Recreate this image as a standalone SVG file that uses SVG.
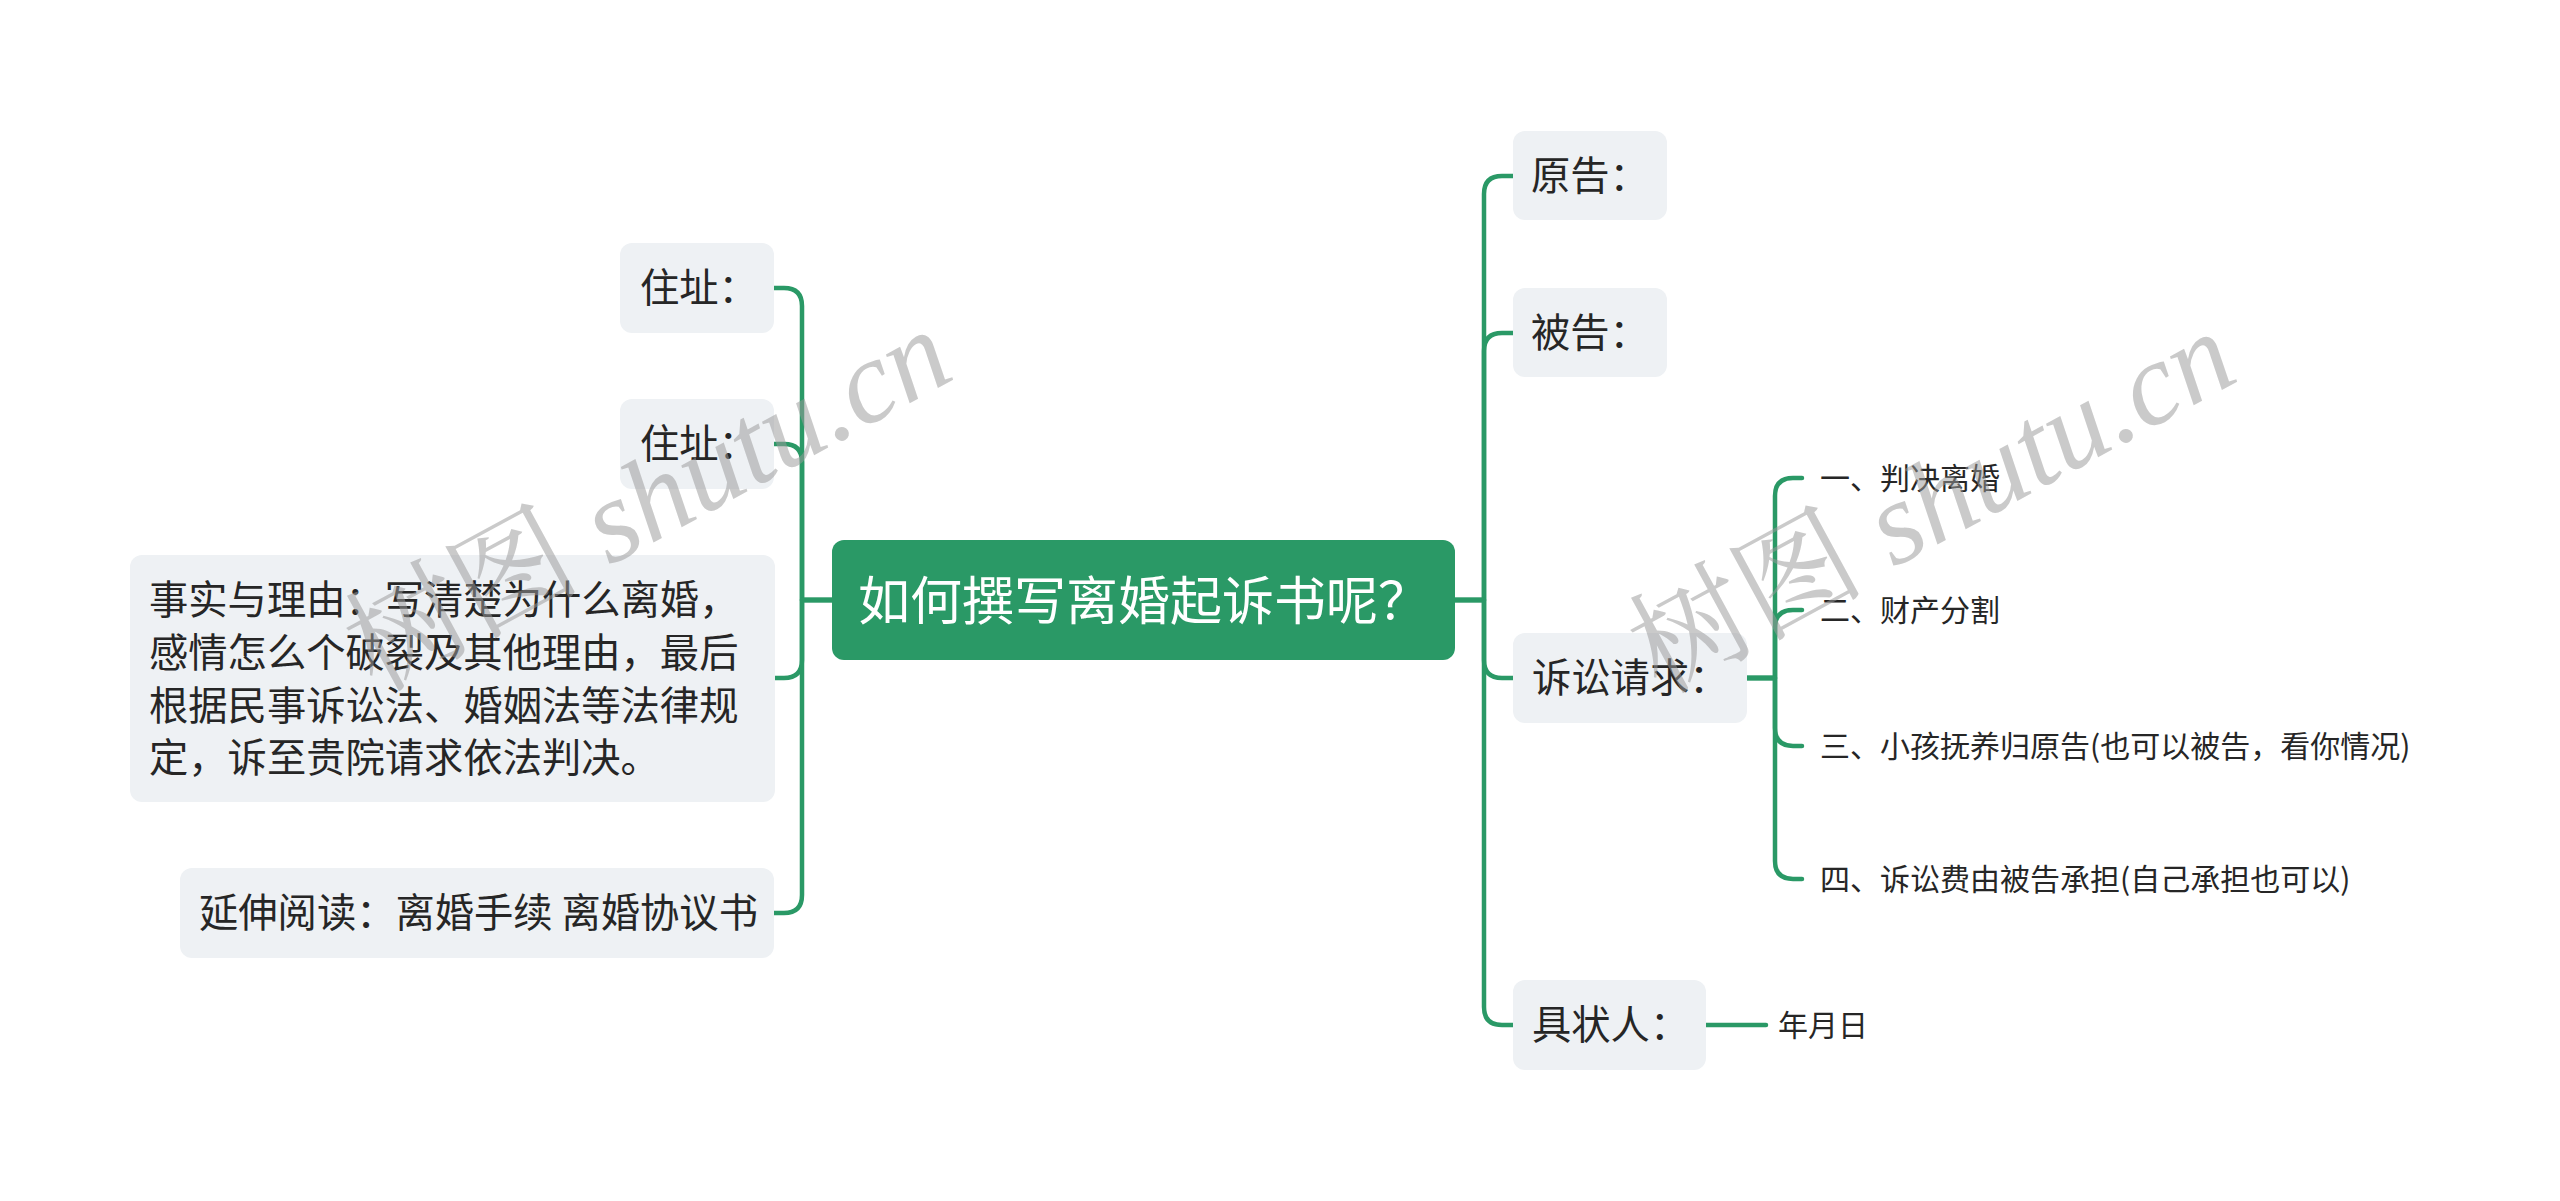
<svg xmlns="http://www.w3.org/2000/svg" width="2560" height="1201" viewBox="0 0 2560 1201">
<style>
.bg{fill:#ffffff}
.node{fill:#eef1f4}
.root{fill:#2a9966}
.t1{font-family:"Noto Sans CJK SC","Noto Sans",sans-serif;font-size:39.3px;fill:#262626}
.t2{font-family:"Noto Sans CJK SC","Noto Sans",sans-serif;font-size:30px;fill:#262626}
.t0{font-family:"Noto Sans CJK SC","Noto Sans",sans-serif;font-size:52px;fill:#ffffff}
.ln{fill:none;stroke:#2a9966;stroke-width:4.5;stroke-linecap:round;stroke-linejoin:round}
.wm{font-family:"Liberation Serif","Noto Serif CJK SC","Noto Sans CJK SC",serif;font-size:118px;fill:#9a9a9a;fill-opacity:0.52}
.wm .it{font-style:italic}
</style>
<rect class="bg" x="0" y="0" width="2560" height="1201"/>
<g id="connectors">
<path class="ln" d="M833 600 H802 V306 Q802 288 784 288 H774"/>
<path class="ln" d="M833 600 H802 V462 Q802 444 784 444 H774"/>
<path class="ln" d="M833 600 H802 V660 Q802 678 784 678 H774"/>
<path class="ln" d="M833 600 H802 V895 Q802 913 784 913 H774"/>
<path class="ln" d="M1455 600 H1484 V194 Q1484 176 1502 176 H1513"/>
<path class="ln" d="M1455 600 H1484 V351 Q1484 333 1502 333 H1513"/>
<path class="ln" d="M1455 600 H1484 V660 Q1484 678 1502 678 H1513"/>
<path class="ln" d="M1455 600 H1484 V1007 Q1484 1025 1502 1025 H1513"/>
<path class="ln" d="M1747 678 H1775 V496 Q1775 478 1793 478 H1802"/>
<path class="ln" d="M1747 678 H1775 V628 Q1775 610 1793 610 H1802"/>
<path class="ln" d="M1747 678 H1775 V728 Q1775 746 1793 746 H1802"/>
<path class="ln" d="M1747 678 H1775 V861 Q1775 879 1793 879 H1802"/>
<path class="ln" d="M1706 1025 H1766"/>
</g>
<g id="root">
<rect class="root" x="832" y="540" width="623" height="120" rx="12"/>
<text class="t0" x="858" y="620">如何撰写离婚起诉书呢？</text>
</g>
<g id="n-zhuzhi1">
<rect class="node" x="620" y="243" width="154" height="90" rx="12"/>
<text class="t1" x="640" y="302">住址：</text>
</g>
<g id="n-zhuzhi2">
<rect class="node" x="620" y="399" width="154" height="90" rx="12"/>
<text class="t1" x="640" y="458">住址：</text>
</g>
<g id="n-shishi">
<rect class="node" x="130" y="555" width="645" height="247" rx="12"/>
<text class="t1" x="149" y="614">事实与理由：写清楚为什么离婚，</text>
<text class="t1" x="149" y="667">感情怎么个破裂及其他理由，最后</text>
<text class="t1" x="149" y="720">根据民事诉讼法、婚姻法等法律规</text>
<text class="t1" x="149" y="772">定，诉至贵院请求依法判决。</text>
</g>
<g id="n-yanshen">
<rect class="node" x="180" y="868" width="594" height="90" rx="12"/>
<text class="t1" x="199" y="927">延伸阅读：离婚手续 离婚协议书</text>
</g>
<g id="n-yuangao">
<rect class="node" x="1513" y="131" width="154" height="89" rx="12"/>
<text class="t1" x="1531" y="190">原告：</text>
</g>
<g id="n-beigao">
<rect class="node" x="1513" y="288" width="154" height="89" rx="12"/>
<text class="t1" x="1531" y="347">被告：</text>
</g>
<g id="n-susong">
<rect class="node" x="1513" y="633" width="234" height="90" rx="12"/>
<text class="t1" x="1532" y="692">诉讼请求：</text>
</g>
<g id="n-juzhuangren">
<rect class="node" x="1513" y="980" width="193" height="90" rx="12"/>
<text class="t1" x="1532" y="1039">具状人：</text>
</g>
<g id="n-1"><text class="t2" x="1820" y="489">一、判决离婚</text></g>
<g id="n-2"><text class="t2" x="1820" y="621">二、财产分割</text></g>
<g id="n-3"><text class="t2" x="1820" y="757">三、小孩抚养归原告(也可以被告，看你情况)</text></g>
<g id="n-4"><text class="t2" x="1820" y="890">四、诉讼费由被告承担(自己承担也可以)</text></g>
<g id="n-date"><text class="t2" x="1778" y="1036">年月日</text></g>
<g id="watermark">
<text class="wm" x="376" y="693" transform="rotate(-28.5 376 693)">树图 <tspan class="it">shutu.cn</tspan></text>
<text class="wm" x="1660" y="695" transform="rotate(-28.5 1660 695)">树图 <tspan class="it">shutu.cn</tspan></text>
</g>
</svg>
